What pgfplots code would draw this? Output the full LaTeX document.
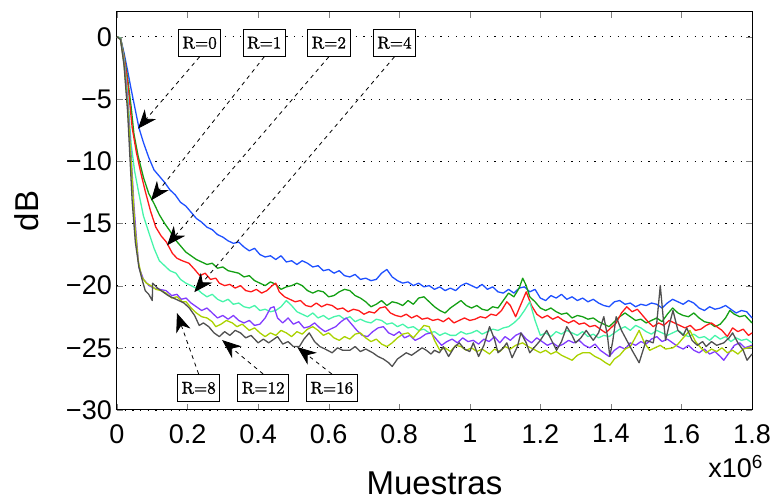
\documentclass[border=0pt]{standalone}
\usepackage{fontspec}
\setsansfont{Liberation Sans}
\newfontfamily\lblfont{lmroman10-regular.otf}[FakeBold=1.2]
\usepackage{pgfplots}
\pgfplotsset{compat=1.18}
\usetikzlibrary{arrows.meta}

\definecolor{cR0}{RGB}{30,80,255}
\definecolor{cR1}{RGB}{20,160,20}
\definecolor{cR2}{RGB}{255,25,25}
\definecolor{cR4}{RGB}{70,245,170}
\definecolor{cR8}{RGB}{130,60,255}
\definecolor{cR12}{RGB}{170,210,0}
\definecolor{cR16}{RGB}{80,80,80}

\tikzset{
  lbl/.style={draw=black, fill=white, line width=0.9pt, inner xsep=4pt, minimum height=27pt,
    font=\lblfont\fontsize{17}{19}\selectfont},
  arr/.style={black, line width=0.8pt, dash pattern=on 4pt off 4pt,
    -{Stealth[length=19pt, width=15pt, inset=6pt]}},
}

\begin{document}
\begin{tikzpicture}
\useasboundingbox (-117pt,-92pt) rectangle (654pt,410pt);
\begin{axis}[
    scale only axis,
    width=635pt, height=398pt,
    xmin=0, xmax=1.8, ymin=-30, ymax=2,
    xtick={0,0.2,...,1.8},
    ytick={-30,-25,-20,-15,-10,-5,0},
    yticklabels={−30,−25,−20,−15,−10,−5,0},
    /pgf/number format/assume math mode=true,
    ticklabel style={font=\sffamily\fontsize{27}{27}\selectfont, inner sep=2pt},
    xticklabel style={yshift=-12pt},
    yticklabel style={xshift=-3pt},
    tick align=inside, tick pos=both,
    major tick length=6pt,
    axis line style={line width=1pt},
    ymajorgrids,
    grid style={black, line width=0.9pt, dash pattern=on 1.2pt off 6.5pt},
    xlabel={Muestras}, ylabel={dB},
    label style={font=\sffamily\fontsize{33}{33}\selectfont, inner sep=1pt},
    xlabel style={at={(axis description cs:0.5,-0.212)}, anchor=base},
    ylabel style={at={(axis description cs:-0.142,0.5)}, anchor=center},
    every axis plot/.append style={line width=1.3pt, line join=round},
    clip=false,
]
% R=0
\addplot[cR0] coordinates {
(0,0) (0.01,-0.1) (0.02,-1.3) (0.03,-2.7) (0.04,-4.2) (0.05,-5.6) (0.062,-7.3) (0.075,-8.5)
(0.09,-9.7) (0.105,-10.7) (0.12,-11.2) (0.135,-11.7) (0.15,-12.3) (0.165,-12.7) (0.18,-13.3)
(0.195,-13.6) (0.21,-14.1) (0.225,-14.6) (0.24,-14.9) (0.255,-15.3) (0.27,-15.5) (0.285,-15.9)
(0.30,-16.1) (0.315,-16.4) (0.33,-16.6) (0.345,-16.5) (0.36,-16.9) (0.375,-17.2) (0.39,-17.0)
(0.405,-17.5) (0.42,-17.7) (0.435,-17.6) (0.45,-17.9) (0.465,-17.6) (0.48,-18.1) (0.495,-18.0)
(0.51,-18.3) (0.525,-18.0) (0.54,-18.2) (0.555,-18.5) (0.57,-18.4) (0.585,-18.8) (0.60,-18.7)
(0.615,-19.0) (0.63,-18.8) (0.645,-19.2) (0.66,-19.3) (0.675,-19.1) (0.69,-19.5) (0.705,-19.4)
(0.72,-19.6) (0.735,-19.5) (0.75,-19.0) (0.765,-18.7) (0.78,-19.3) (0.795,-19.6) (0.81,-19.8)
(0.825,-19.7) (0.84,-20.0) (0.855,-19.8) (0.87,-20.1) (0.885,-20.0) (0.90,-20.3) (0.915,-20.1)
(0.93,-20.4) (0.945,-20.2) (0.96,-20.4) (0.975,-20.0) (0.99,-19.8) (1.005,-20.0) (1.02,-20.2)
(1.035,-19.9) (1.05,-20.3) (1.065,-20.1) (1.08,-20.5) (1.095,-20.6) (1.11,-20.3) (1.125,-20.6)
(1.14,-20.2) (1.155,-20.1) (1.17,-20.5) (1.185,-20.3) (1.20,-21.0) (1.215,-21.2) (1.23,-20.8)
(1.245,-21.0) (1.26,-20.7) (1.275,-21.1) (1.29,-20.9) (1.305,-21.2) (1.32,-21.0) (1.335,-21.3)
(1.35,-21.1) (1.365,-21.4) (1.38,-21.6) (1.395,-21.7) (1.41,-21.3) (1.425,-21.2) (1.44,-21.5)
(1.455,-21.4) (1.47,-21.7) (1.485,-21.5) (1.50,-21.6) (1.515,-21.4) (1.53,-21.5) (1.545,-21.8)
(1.56,-21.4) (1.575,-21.1) (1.59,-21.3) (1.605,-21.5) (1.62,-21.2) (1.635,-21.4) (1.65,-21.8)
(1.665,-22.0) (1.68,-21.7) (1.695,-21.9) (1.71,-21.8) (1.725,-21.6) (1.74,-21.9) (1.755,-22.2)
(1.77,-22.0) (1.785,-22.1) (1.80,-22.6)
};
% R=1
\addplot[cR1] coordinates {
(0,0) (0.01,-0.1) (0.02,-1.5) (0.03,-3.3) (0.04,-5.6) (0.048,-7.8) (0.06,-9.6) (0.075,-11.3)
(0.09,-12.6) (0.105,-13.4) (0.12,-14.3) (0.135,-15.0) (0.15,-15.6) (0.165,-16.3) (0.18,-16.8)
(0.195,-17.3) (0.21,-17.6) (0.225,-17.9) (0.24,-18.1) (0.255,-18.3) (0.27,-18.2) (0.285,-18.6)
(0.30,-18.5) (0.315,-18.8) (0.33,-18.9) (0.345,-19.0) (0.36,-19.3) (0.375,-19.2) (0.39,-19.6)
(0.405,-19.8) (0.42,-20.0) (0.435,-19.7) (0.45,-19.9) (0.465,-20.3) (0.48,-20.1) (0.495,-20.0)
(0.51,-19.8) (0.525,-20.0) (0.54,-20.4) (0.555,-20.6) (0.57,-20.4) (0.585,-20.5) (0.60,-20.9)
(0.615,-20.8) (0.63,-20.5) (0.645,-20.3) (0.66,-20.4) (0.675,-20.8) (0.69,-21.0) (0.705,-21.3)
(0.72,-21.7) (0.735,-21.5) (0.75,-21.2) (0.765,-21.6) (0.78,-21.3) (0.795,-21.4) (0.81,-21.6)
(0.825,-21.2) (0.84,-21.5) (0.855,-21.0) (0.87,-20.9) (0.885,-21.3) (0.90,-21.7) (0.915,-22.0)
(0.93,-22.2) (0.945,-21.8) (0.96,-21.5) (0.975,-21.2) (0.99,-21.6) (1.005,-21.8) (1.02,-21.6)
(1.035,-21.9) (1.05,-22.0) (1.065,-21.7) (1.08,-21.8) (1.095,-21.2) (1.11,-20.6) (1.125,-20.9)
(1.14,-20.2) (1.15,-19.4) (1.16,-20.0) (1.17,-20.9) (1.185,-21.3) (1.20,-21.8) (1.215,-22.0)
(1.23,-21.8) (1.245,-22.1) (1.26,-22.3) (1.275,-22.2) (1.29,-22.6) (1.305,-22.4) (1.32,-22.5)
(1.335,-22.7) (1.35,-22.6) (1.365,-22.9) (1.38,-23.1) (1.395,-23.3) (1.41,-22.9) (1.425,-22.5)
(1.44,-22.2) (1.455,-22.5) (1.47,-22.8) (1.485,-22.7) (1.50,-23.0) (1.515,-22.8) (1.53,-22.6)
(1.545,-22.9) (1.56,-22.3) (1.575,-21.8) (1.59,-22.2) (1.605,-22.4) (1.62,-22.5) (1.635,-22.2)
(1.65,-22.6) (1.665,-22.9) (1.68,-23.0) (1.695,-23.3) (1.71,-23.1) (1.725,-22.6) (1.737,-22.0)
(1.75,-22.3) (1.765,-22.5) (1.78,-22.4) (1.80,-23.0)
};
% R=2
\addplot[cR2] coordinates {
(0,0) (0.01,-0.1) (0.02,-1.6) (0.03,-3.6) (0.043,-7.3) (0.055,-9.3) (0.068,-11.0) (0.08,-12.4)
(0.095,-14.0) (0.11,-15.3) (0.125,-16.0) (0.14,-16.5) (0.157,-17.4) (0.17,-17.8) (0.185,-18.0)
(0.204,-18.2) (0.22,-18.7) (0.235,-19.2) (0.25,-19.0) (0.265,-19.5) (0.28,-19.4) (0.29,-19.8)
(0.305,-20.0) (0.32,-19.9) (0.335,-20.2) (0.35,-20.0) (0.365,-20.4) (0.38,-20.5) (0.395,-20.3)
(0.41,-20.6) (0.425,-20.4) (0.44,-20.0) (0.45,-19.8) (0.46,-20.5) (0.475,-20.9) (0.49,-21.1)
(0.505,-21.3) (0.52,-21.2) (0.535,-21.6) (0.55,-21.7) (0.565,-21.4) (0.58,-21.7) (0.595,-21.5)
(0.61,-21.6) (0.625,-21.9) (0.64,-21.8) (0.655,-22.1) (0.67,-21.9) (0.685,-22.0) (0.70,-22.3)
(0.715,-22.1) (0.73,-22.2) (0.745,-21.8) (0.76,-21.7) (0.775,-22.2) (0.79,-22.4) (0.805,-22.5)
(0.82,-22.3) (0.835,-22.6) (0.85,-22.4) (0.865,-22.7) (0.88,-22.6) (0.895,-22.8) (0.91,-22.7)
(0.925,-22.9) (0.94,-22.6) (0.955,-23.0) (0.97,-22.8) (0.985,-22.6) (1.00,-22.8) (1.015,-22.7)
(1.03,-22.5) (1.045,-22.6) (1.06,-22.3) (1.075,-22.4) (1.09,-22.0) (1.105,-21.3) (1.115,-21.6)
(1.13,-22.5) (1.145,-21.5) (1.16,-20.5) (1.175,-21.6) (1.19,-22.3) (1.205,-22.6) (1.22,-22.4)
(1.235,-22.7) (1.25,-22.5) (1.265,-22.8) (1.28,-23.0) (1.295,-22.8) (1.31,-23.1) (1.325,-23.0)
(1.34,-23.3) (1.355,-23.2) (1.37,-23.5) (1.385,-23.8) (1.40,-23.4) (1.415,-23.0) (1.43,-22.2)
(1.445,-21.7) (1.46,-22.1) (1.475,-21.9) (1.49,-22.4) (1.505,-22.9) (1.52,-23.3) (1.535,-23.0)
(1.55,-23.2) (1.565,-22.8) (1.58,-23.0) (1.595,-23.2) (1.61,-23.4) (1.625,-23.2) (1.64,-23.6)
(1.655,-23.5) (1.67,-23.2) (1.685,-23.0) (1.70,-23.3) (1.715,-23.6) (1.73,-24.1) (1.745,-23.4)
(1.76,-23.7) (1.775,-23.5) (1.79,-24.0) (1.80,-23.8)
};
% R=4
\addplot[cR4] coordinates {
(0,0) (0.01,-0.1) (0.02,-1.8) (0.03,-4.5) (0.04,-8.6) (0.05,-10.8) (0.062,-12.6) (0.075,-14.4)
(0.091,-15.8) (0.105,-17.0) (0.12,-18.0) (0.135,-18.4) (0.15,-18.8) (0.167,-19.0) (0.18,-19.5)
(0.195,-19.8) (0.21,-20.0) (0.224,-20.2) (0.24,-20.6) (0.255,-20.9) (0.27,-20.7) (0.285,-21.1)
(0.30,-21.3) (0.315,-21.1) (0.33,-21.5) (0.345,-21.4) (0.36,-21.7) (0.375,-21.8) (0.39,-21.6)
(0.405,-22.0) (0.42,-21.9) (0.435,-22.1) (0.45,-22.0) (0.465,-21.7) (0.48,-21.2) (0.495,-21.6)
(0.51,-22.1) (0.525,-22.3) (0.54,-22.5) (0.555,-22.2) (0.57,-22.6) (0.585,-22.4) (0.60,-22.7)
(0.615,-22.5) (0.63,-22.4) (0.645,-22.7) (0.66,-22.5) (0.675,-22.9) (0.69,-22.7) (0.705,-22.9)
(0.72,-23.0) (0.735,-22.7) (0.75,-22.8) (0.765,-23.1) (0.78,-23.0) (0.795,-23.3) (0.81,-23.1)
(0.825,-23.4) (0.84,-23.3) (0.855,-23.6) (0.87,-23.5) (0.885,-23.8) (0.90,-23.7) (0.915,-24.0)
(0.93,-23.8) (0.945,-24.0) (0.96,-24.0) (0.975,-23.7) (0.99,-23.9) (1.005,-23.8) (1.02,-23.6)
(1.035,-23.9) (1.05,-23.7) (1.065,-23.5) (1.08,-23.6) (1.095,-23.4) (1.11,-23.3) (1.125,-23.0)
(1.14,-22.6) (1.155,-22.0) (1.17,-21.3) (1.185,-22.8) (1.20,-24.0) (1.215,-23.8) (1.23,-24.1)
(1.245,-23.7) (1.26,-23.9) (1.275,-23.6) (1.29,-23.8) (1.305,-24.0) (1.32,-23.7) (1.335,-24.1)
(1.35,-23.9) (1.365,-24.2) (1.38,-24.0) (1.395,-24.1) (1.41,-23.8) (1.425,-23.5) (1.44,-23.3)
(1.455,-23.6) (1.47,-23.2) (1.485,-23.4) (1.50,-23.7) (1.515,-23.9) (1.53,-23.6) (1.545,-23.8)
(1.56,-24.0) (1.575,-23.8) (1.59,-23.6) (1.605,-23.9) (1.62,-24.1) (1.635,-23.9) (1.65,-24.2)
(1.665,-24.1) (1.68,-24.4) (1.695,-24.0) (1.71,-24.3) (1.725,-24.1) (1.74,-24.5) (1.755,-24.2)
(1.77,-24.4) (1.785,-24.3) (1.80,-24.6)
};
% R=8
\addplot[cR8] coordinates {
(0,0) (0.01,-0.2) (0.02,-2.0) (0.03,-5.0) (0.04,-9.5) (0.048,-13.5) (0.054,-15.8) (0.062,-18.5)
(0.075,-19.5) (0.091,-20.0) (0.105,-20.2) (0.12,-20.3) (0.139,-20.4) (0.155,-20.8) (0.17,-20.7)
(0.182,-21.1) (0.196,-21.0) (0.21,-21.4) (0.225,-21.7) (0.24,-22.0) (0.255,-21.8) (0.27,-22.2)
(0.285,-22.6) (0.30,-22.4) (0.315,-22.7) (0.33,-22.4) (0.345,-22.8) (0.36,-23.0) (0.375,-22.8)
(0.39,-23.2) (0.405,-23.1) (0.42,-22.6) (0.435,-21.8) (0.445,-21.7) (0.455,-22.6) (0.47,-23.0)
(0.485,-22.6) (0.50,-23.1) (0.515,-22.9) (0.53,-23.4) (0.545,-23.3) (0.56,-23.0) (0.575,-23.4)
(0.59,-23.7) (0.605,-23.5) (0.62,-23.3) (0.635,-22.9) (0.65,-22.6) (0.665,-23.1) (0.68,-23.6)
(0.695,-24.0) (0.71,-24.1) (0.725,-23.7) (0.74,-23.4) (0.755,-23.3) (0.77,-23.8) (0.785,-24.0)
(0.80,-23.7) (0.815,-24.2) (0.83,-24.0) (0.845,-24.4) (0.86,-24.2) (0.875,-23.9) (0.89,-23.8)
(0.905,-24.3) (0.92,-24.8) (0.935,-24.5) (0.95,-24.3) (0.965,-24.6) (0.98,-24.2) (0.995,-24.5)
(1.01,-24.4) (1.025,-24.7) (1.04,-24.3) (1.055,-24.5) (1.07,-24.1) (1.085,-24.6) (1.10,-24.1)
(1.115,-24.4) (1.13,-24.0) (1.145,-23.8) (1.16,-24.3) (1.175,-24.6) (1.19,-24.2) (1.205,-24.5)
(1.22,-24.8) (1.235,-24.6) (1.25,-24.9) (1.265,-24.7) (1.28,-24.4) (1.295,-24.6) (1.31,-24.4)
(1.325,-24.8) (1.34,-25.0) (1.355,-24.7) (1.37,-25.2) (1.385,-25.5) (1.395,-25.7) (1.41,-25.2)
(1.425,-24.9) (1.44,-25.1) (1.455,-24.6) (1.47,-24.8) (1.485,-24.5) (1.50,-24.7) (1.515,-24.3)
(1.53,-24.1) (1.545,-24.5) (1.56,-24.3) (1.575,-24.6) (1.59,-24.9) (1.605,-25.1) (1.62,-24.8)
(1.635,-25.2) (1.65,-25.4) (1.665,-25.1) (1.68,-25.5) (1.695,-25.3) (1.71,-25.7) (1.72,-26.0)
(1.735,-25.4) (1.75,-24.8) (1.765,-24.6) (1.78,-25.0) (1.80,-24.8)
};
% R=12
\addplot[cR12] coordinates {
(0,0) (0.01,-0.2) (0.02,-2.2) (0.03,-5.5) (0.04,-10.0) (0.05,-15.0) (0.06,-18.0) (0.07,-19.3)
(0.083,-19.8) (0.096,-20.0) (0.11,-20.3) (0.125,-20.4) (0.139,-20.6) (0.155,-21.0) (0.17,-20.9)
(0.185,-21.3) (0.196,-21.3) (0.21,-21.8) (0.225,-22.2) (0.24,-22.5) (0.255,-22.6) (0.27,-22.9)
(0.28,-23.3) (0.295,-23.1) (0.31,-22.8) (0.327,-23.0) (0.34,-23.3) (0.355,-23.1) (0.375,-23.6)
(0.39,-23.4) (0.405,-23.8) (0.42,-24.1) (0.435,-23.8) (0.45,-24.0) (0.465,-23.6) (0.48,-23.8)
(0.495,-24.1) (0.51,-23.7) (0.525,-23.9) (0.54,-23.5) (0.555,-23.3) (0.57,-23.6) (0.585,-24.0)
(0.60,-23.8) (0.615,-24.2) (0.63,-24.4) (0.645,-24.1) (0.66,-24.3) (0.675,-23.9) (0.69,-23.8)
(0.705,-24.2) (0.72,-24.5) (0.735,-24.3) (0.75,-24.7) (0.765,-24.9) (0.78,-24.6) (0.795,-24.2)
(0.81,-23.9) (0.825,-23.8) (0.84,-24.2) (0.855,-23.7) (0.87,-23.2) (0.885,-23.3) (0.90,-24.4)
(0.915,-25.2) (0.93,-25.0) (0.945,-25.3) (0.96,-24.8) (0.975,-24.9) (0.99,-25.2) (1.005,-25.0)
(1.02,-25.3) (1.035,-25.1) (1.056,-25.5) (1.07,-25.1) (1.085,-25.3) (1.10,-24.9) (1.115,-25.1)
(1.13,-24.8) (1.15,-24.6) (1.165,-24.9) (1.18,-25.1) (1.20,-25.4) (1.215,-25.2) (1.23,-25.5)
(1.245,-25.3) (1.26,-25.6) (1.275,-25.8) (1.29,-26.0) (1.305,-25.6) (1.32,-25.4) (1.34,-25.4)
(1.355,-25.7) (1.37,-25.9) (1.385,-26.2) (1.397,-26.4) (1.41,-25.9) (1.425,-25.6) (1.44,-25.1)
(1.455,-24.9) (1.465,-24.4) (1.48,-23.6) (1.495,-24.6) (1.51,-25.2) (1.525,-25.0) (1.54,-24.8)
(1.555,-25.1) (1.576,-25.0) (1.59,-24.7) (1.605,-24.2) (1.624,-23.6) (1.64,-24.5) (1.655,-25.0)
(1.67,-25.4) (1.685,-25.1) (1.70,-25.3) (1.715,-25.0) (1.73,-25.4) (1.745,-25.2) (1.76,-25.5)
(1.775,-25.1) (1.80,-24.9)
};
% R=16
\addplot[cR16] coordinates {
(0,0) (0.01,-0.2) (0.02,-2.3) (0.03,-6.0) (0.043,-13.2) (0.052,-16.5) (0.062,-18.5) (0.072,-19.6)
(0.08,-20.4) (0.09,-20.7) (0.1,-21.2) (0.101,-19.8) (0.115,-20.2) (0.13,-20.5) (0.145,-20.8)
(0.16,-21.0) (0.175,-21.2) (0.19,-21.4) (0.205,-21.8) (0.22,-22.4) (0.233,-23.2) (0.245,-23.0)
(0.26,-23.3) (0.275,-23.8) (0.29,-24.1) (0.305,-23.7) (0.32,-24.0) (0.335,-23.6) (0.35,-23.8)
(0.365,-24.2) (0.38,-24.0) (0.40,-24.6) (0.415,-24.3) (0.43,-24.6) (0.44,-24.4) (0.455,-24.1)
(0.47,-24.7) (0.485,-24.5) (0.50,-24.9) (0.517,-24.9) (0.53,-24.3) (0.545,-23.8) (0.56,-24.5)
(0.575,-24.9) (0.59,-25.1) (0.61,-25.4) (0.625,-25.0) (0.64,-25.2) (0.66,-25.2) (0.675,-24.9)
(0.69,-25.3) (0.705,-25.1) (0.725,-25.4) (0.74,-25.7) (0.755,-25.9) (0.77,-26.2) (0.78,-26.5)
(0.795,-25.9) (0.81,-25.6) (0.82,-25.4) (0.835,-25.6) (0.85,-25.3) (0.865,-25.0) (0.877,-25.2)
(0.89,-25.5) (0.90,-25.2) (0.914,-25.4) (0.925,-24.9) (0.94,-25.7) (0.955,-25.0) (0.97,-24.6)
(0.985,-25.1) (1.00,-25.3) (1.01,-24.6) (1.025,-25.7) (1.04,-24.8) (1.056,-23.3) (1.07,-24.3)
(1.08,-25.4) (1.095,-25.0) (1.105,-24.6) (1.12,-25.8) (1.135,-24.9) (1.145,-23.8) (1.16,-24.6)
(1.17,-25.4) (1.185,-24.9) (1.20,-24.4) (1.218,-23.6) (1.23,-24.3) (1.246,-25.2) (1.26,-24.5)
(1.275,-23.3) (1.29,-24.0) (1.30,-24.6) (1.315,-24.2) (1.33,-23.6) (1.35,-24.4) (1.365,-23.8)
(1.38,-22.5) (1.39,-24.0) (1.397,-25.7) (1.405,-24.5) (1.415,-22.5) (1.43,-23.6) (1.445,-24.4)
(1.46,-25.2) (1.48,-26.2) (1.49,-25.3) (1.50,-24.4) (1.52,-24.6) (1.53,-23.0) (1.54,-20.0)
(1.548,-22.5) (1.555,-24.4) (1.565,-23.2) (1.576,-22.0) (1.59,-23.6) (1.605,-24.0) (1.615,-23.4)
(1.63,-24.4) (1.645,-24.8) (1.66,-24.5) (1.67,-24.9) (1.685,-24.5) (1.70,-24.8) (1.72,-24.6)
(1.735,-24.2) (1.745,-23.8) (1.76,-24.6) (1.775,-25.2) (1.786,-26.0) (1.80,-25.5)
};

% annotations
\node[lbl] (a0) at (axis cs:0.2342,-0.48) {R=0};
\node[lbl] (a1) at (axis cs:0.4174,-0.48) {R=1};
\node[lbl] (a2) at (axis cs:0.6005,-0.48) {R=2};
\node[lbl] (a4) at (axis cs:0.7865,-0.48) {R=4};
\node[lbl] (a8) at (axis cs:0.2314,-28.23) {R=8};
\node[lbl] (a12) at (axis cs:0.4145,-28.23) {R=12};
\node[lbl] (a16) at (axis cs:0.609,-28.23) {R=16};
\draw[arr] (a0.south) -- (axis cs:0.0596,-7.38);
\draw[arr] (a1.south) -- (axis cs:0.0965,-13.15);
\draw[arr] (a2.south) -- (axis cs:0.142,-16.76);
\draw[arr] (a4.south) -- (axis cs:0.219,-20.53);
\draw[arr] (a8.north) -- (axis cs:0.170,-22.21);
\draw[arr] (a12.north) -- (axis cs:0.298,-24.38);
\draw[arr] (a16.north) -- (axis cs:0.511,-24.94);

\coordinate (br) at (rel axis cs:1,0);
\end{axis}
\node[anchor=base east, inner sep=1pt, font=\sffamily\fontsize{27}{27}\selectfont]
  at ([xshift=12pt,yshift=-68pt]br) {x10\textsuperscript{6}};
\end{tikzpicture}
\end{document}
